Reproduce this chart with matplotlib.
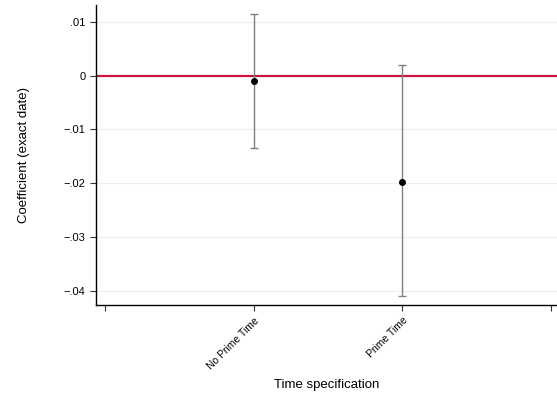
import matplotlib
matplotlib.use("Agg")
from matplotlib import pyplot as plt
import numpy as np

labels = ["No Prime Time", "Prime Time"]
coef = [-0.0011, -0.0197]
ci_low = [-0.0134, -0.0410]
ci_high = [0.0115, 0.0019]
yticks = [0.01, 0, -0.01, -0.02, -0.03, -0.04]
ytick_labels = [".01", "0", "\u2212.01", "\u2212.02", "\u2212.03", "\u2212.04"]

plt.rcParams["font.family"] = ["Liberation Sans", "DejaVu Sans"]

fig = plt.figure(figsize=(5.57, 4), dpi=100)
ax = fig.add_axes([96 / 557, 1 - 305 / 400, 1 - 96 / 557, 300 / 400])

x = np.arange(1, len(labels) + 1)
coef = np.array(coef)
yerr = [coef - np.array(ci_low), np.array(ci_high) - coef]

for yt in yticks:
    ax.axhline(yt, color="#e8f0f3", lw=0.8, zorder=0)
ax.axhline(0, color="#c8163e", lw=1.6, zorder=1)

ax.errorbar(x, coef, yerr=yerr, fmt="o", color="black", ms=4,
            ecolor="#808080", elinewidth=1.0, capsize=3, capthick=1.0, zorder=3)

ax.set_xlim(-0.06, 3.04)
ax.set_ylim(-0.0426, 0.0131)
ax.set_xticks([0, 1, 2, 3])
ax.set_xticklabels(["", labels[0], labels[1], ""], rotation=45, ha="right",
                   rotation_mode="anchor", fontsize=7.5)
ax.set_yticks(yticks)
ax.set_yticklabels(ytick_labels, fontsize=8)
ax.tick_params(axis="both", length=4, width=0.8, color="#333333")

ax.spines["top"].set_visible(False)
ax.spines["right"].set_visible(False)
ax.spines["left"].set_linewidth(1.0)
ax.spines["bottom"].set_linewidth(1.0)

ax.set_ylabel("Coefficient (exact date)", fontsize=9.5, labelpad=24)
ax.set_xlabel("Time specification", fontsize=9.5, labelpad=6)

fig.savefig("out.png", dpi=100)
